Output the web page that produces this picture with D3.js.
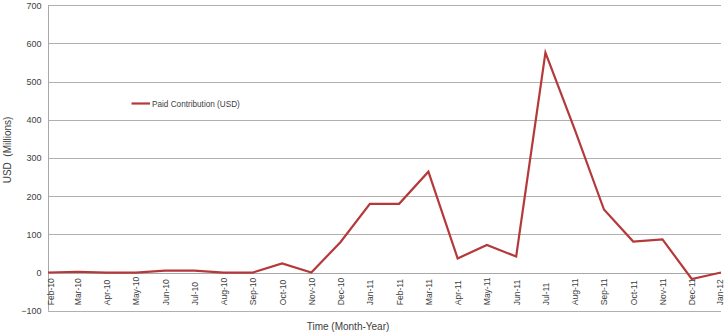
<!DOCTYPE html>
<html><head><meta charset="utf-8">
<script src="https://cdn.jsdelivr.net/npm/d3@7"></script>
<style>
body{margin:0;background:#fff;}
svg{display:block;font-family:"Liberation Sans",Arial,sans-serif;}
</style></head>
<body><svg id="c" width="726" height="332"></svg>
<script>
const months = ["Feb-10","Mar-10","Apr-10","May-10","Jun-10","Jul-10","Aug-10","Sep-10","Oct-10","Nov-10","Dec-10","Jan-11","Feb-11","Mar-11","Apr-11","May-11","Jun-11","Jul-11","Aug-11","Sep-11","Oct-11","Nov-11","Dec-11","Jan-12"];
const paid = [0,2,0,0,5,5,0,0,24,0,80,180,180,264,37,72,42,576,375,165,81,87,-17,0];
const yTicks = [-100,0,100,200,300,400,500,600,700];
const seriesName = "Paid Contribution (USD)";
const xTitle = "Time (Month-Year)";
const yTitle = "USD  (Millions)";

const svg = d3.select("#c");
const L = 48, R = 721, T = 5.3, B = 310.7;
const x = d3.scalePoint().domain(months).range([L, R]);
const y = d3.scaleLinear().domain([-100, 700]).range([B, T]);

// gridlines
svg.append("g").selectAll("line").data(yTicks).join("line")
  .attr("x1", L).attr("x2", R)
  .attr("y1", d => Math.round(y(d)) + 0.5).attr("y2", d => Math.round(y(d)) + 0.5)
  .attr("stroke", d => d === 0 ? "#a8a8a8" : "#b0b0b0").attr("stroke-width", 1);

// y axis
const ya = svg.append("g").attr("transform", `translate(${L + 0.5},0)`)
  .call(d3.axisLeft(y).tickValues(yTicks).tickSize(0).tickPadding(7).tickFormat(d3.format("d")));
ya.select(".domain").attr("stroke", "#a8a8a8").attr("d", `M0,${T}V${B}`);
ya.selectAll("text").attr("font-size", 9).attr("fill", "#404040")
  .attr("font-family", "'Liberation Sans',Arial,sans-serif");

// x axis labels (rotated, anchored at bottom)
const xa = svg.append("g").attr("transform", `translate(0,${y(0)})`)
  .call(d3.axisBottom(x).tickSize(0).tickFormat(d => d));
xa.select(".domain").remove();
xa.selectAll(".tick text")
  .attr("font-size", 8.5).attr("fill", "#404040")
  .attr("font-family", "'Liberation Sans',Arial,sans-serif")
  .attr("text-anchor", "start")
  .attr("dy", null)
  .attr("y", 0)
  .attr("transform", (d, i) => {
    let dx = 3;
    if (i === 0) dx = 5.5;
    if (i === months.length - 1) dx = 1;
    return `translate(${dx},${B - 5.5 - y(0)}) rotate(-90)`;
  });

// line
svg.append("path").datum(paid)
  .attr("fill", "none").attr("stroke", "#b5393a").attr("stroke-width", 2.2)
  .attr("stroke-linejoin", "miter")
  .attr("d", d3.line().x((d, i) => x(months[i])).y(d => y(d)));

// legend
svg.append("line").attr("x1", 131.5).attr("x2", 150).attr("y1", 103.5).attr("y2", 103.5)
  .attr("stroke", "#b5393a").attr("stroke-width", 2.2);
svg.append("text").attr("x", 152).attr("y", 106.5).attr("font-size", 8.2).attr("fill", "#404040")
  .text(seriesName);

// axis titles
svg.append("text").attr("x", 348).attr("y", 330).attr("text-anchor", "middle")
  .attr("font-size", 10).attr("fill", "#404040").text(xTitle);
svg.append("text").attr("transform", "translate(11,150) rotate(-90)").attr("text-anchor", "middle")
  .attr("font-size", 10).attr("fill", "#404040").attr("xml:space", "preserve").style("white-space", "pre")
  .text(yTitle);
</script></body></html>
